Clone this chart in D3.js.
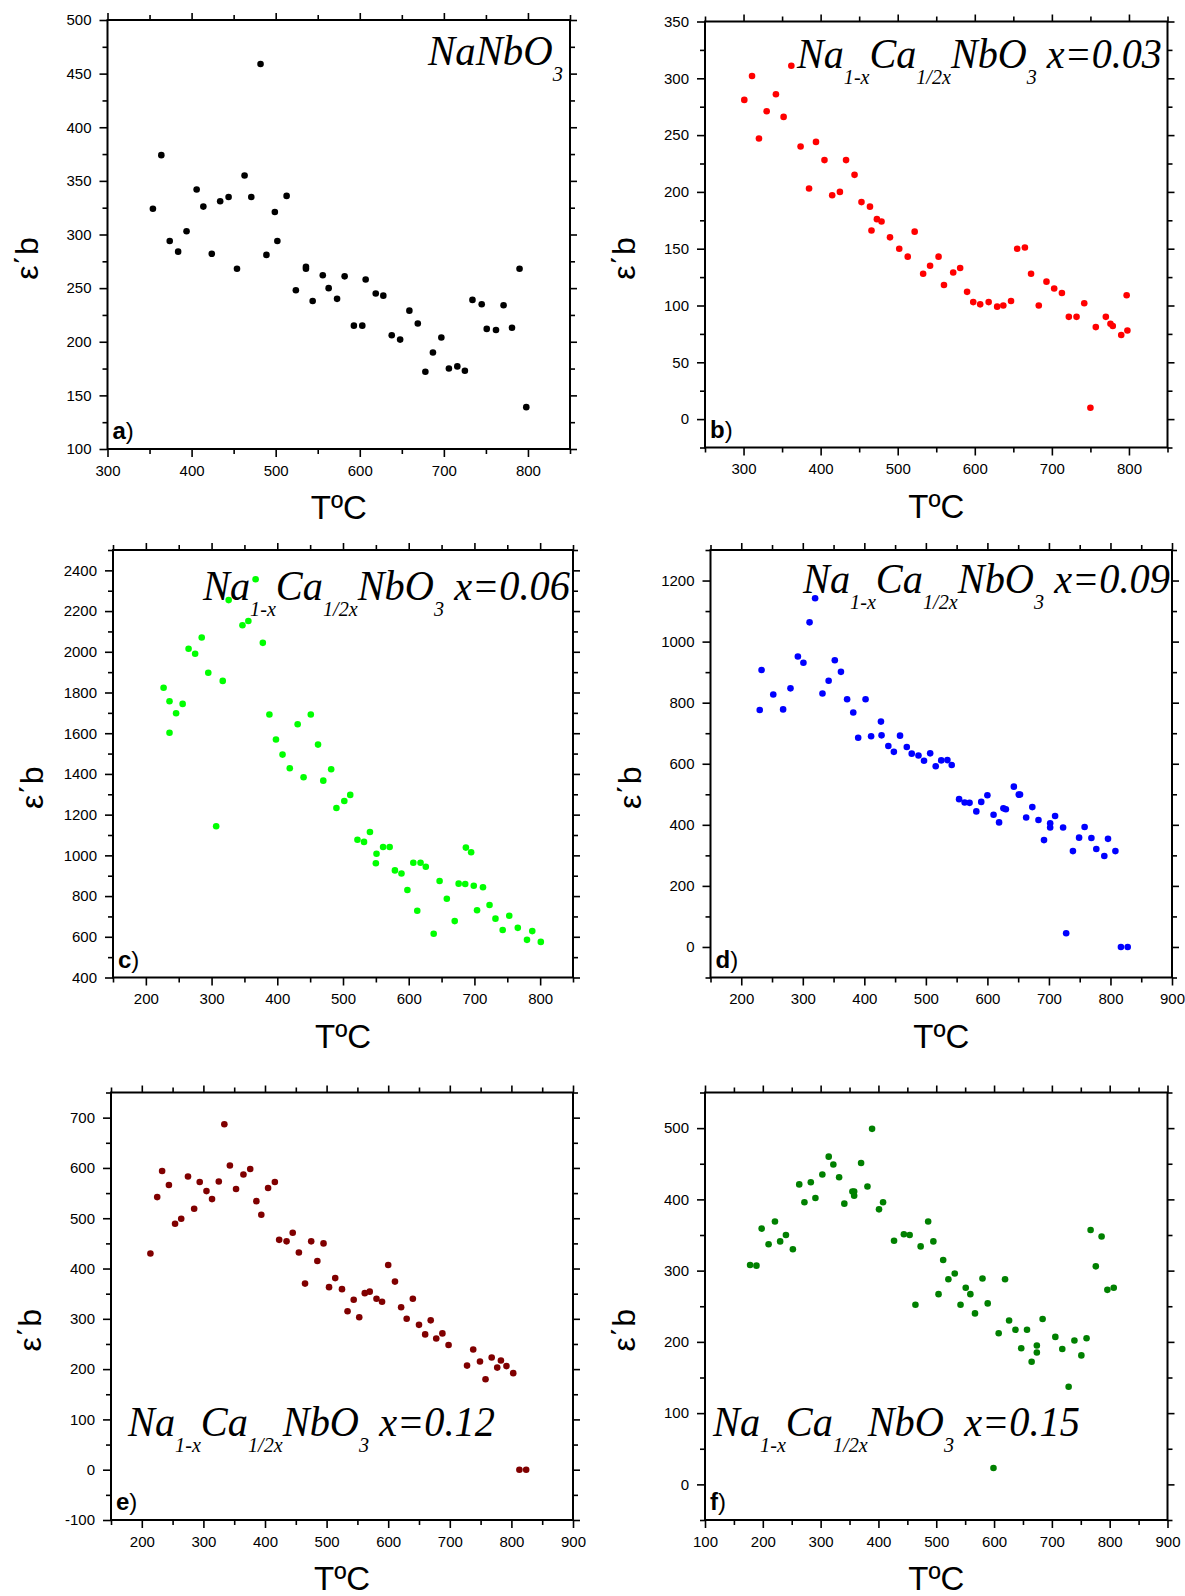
<!DOCTYPE html>
<html><head><meta charset="utf-8">
<script src="https://cdn.jsdelivr.net/npm/d3@7"></script>
<style>body{margin:0;background:#fff}svg{display:block}</style>
</head><body>
<svg id="chart" width="1185" height="1596"></svg>
<script>
// ---- data (temperature °C, ε'b) ----
const tempA=[354,364,374,384,394,406,414,424,434,444,454,463,471,482,489,499,502,513,524,536,536,544,556,563,573,582,593,603,607,619,628,638,648,659,669,678,687,697,706,716,725,734,745,751,762,771,781,790,798];
const epsA=[324,374,294,284,303,342,326,282,331,335,268,355,335,459,281,321,294,336,248,270,268,238,262,250,240,261,215,215,258,245,243,206,202,229,217,172,190,204,175,177,173,239,235,212,211,234,213,268,139];

const tempB=[301,311,320,330,342,352,362,374,385,394,405,415,425,433,444,453,464,466,473,479,490,502,513,522,533,542,553,560,572,581,590,598,607,618,629,637,647,655,665,673,683,693,703,713,722,732,742,750,757,770,776,779,790,797,798];
const epsB=[281,302,247,271,286,266,311,240,203,244,228,197,200,228,215,191,187,166,176,174,160,150,143,165,128,135,143,118,129,133,112,103,101,103,99,100,104,150,151,128,100,121,115,111,90,90,102,10,81,90,84,82,74,109,78];

const tempC=[227,236,236,246,256,265,275,285,295,307,317,326,347,356,367,378,388,398,408,419,431,440,451,462,470,482,490,502,511,522,532,541,551,550,561,571,579,589,598,607,613,618,626,638,647,658,670,676,686,687,695,699,704,713,723,732,743,753,766,780,788,801];
const epsC=[1823,1757,1602,1698,1744,2015,1990,2070,1897,1143,1857,2254,2130,2151,2356,2044,1692,1569,1495,1428,1644,1384,1692,1544,1367,1423,1233,1267,1297,1077,1066,1115,1008,961,1041,1041,926,911,830,964,728,964,944,615,874,787,677,861,859,1038,1015,851,730,843,756,689,633,703,644,585,628,575];

const tempD=[230,233,252,268,280,292,301,311,320,332,342,352,362,372,382,390,402,411,427,428,439,448,458,469,477,488,497,507,516,525,535,542,554,563,571,582,590,600,610,619,626,630,643,651,653,663,673,683,692,702,702,710,723,728,739,749,758,769,777,790,796,808,817,828];
const epsD=[776,907,827,778,847,951,931,1063,1142,830,872,939,901,811,768,685,811,690,738,693,658,639,692,655,633,627,610,634,592,611,612,596,484,473,472,444,475,497,433,408,454,451,525,499,499,424,458,416,350,405,391,429,391,45,314,358,393,357,321,298,354,314,0,0];

const tempE=[214,225,233,244,254,264,275,285,294,305,314,325,334,343,353,365,376,386,394,405,416,423,435,445,455,465,475,485,495,504,514,525,534,544,553,562,570,581,590,600,611,621,630,640,650,660,669,678,688,698,728,738,749,758,768,777,783,792,803,813,824];
const epsE=[430,542,594,566,489,499,583,519,572,554,538,573,687,605,558,587,598,534,507,560,572,457,454,471,432,370,454,415,450,363,381,359,315,338,303,351,354,340,334,407,374,323,300,340,288,269,297,261,271,248,207,239,215,180,223,203,217,206,192,0,0];

const tempF=[178,189,198,210,221,230,240,252,263,272,283,291,303,314,322,332,341,355,358,358,370,381,389,401,408,427,444,454,464,473,486,495,504,512,521,532,542,551,559,567,580,589,599,608,619,626,637,647,657,665,674,674,684,706,718,729,739,751,760,767,776,786,796,807];
const epsF=[308,307,359,337,369,341,350,330,421,396,424,402,435,460,449,431,394,411,411,405,451,418,499,386,396,342,351,350,252,334,369,341,267,315,288,296,252,276,267,240,289,254,23,212,288,230,217,191,217,172,195,185,232,207,190,137,202,181,205,357,306,348,273,276];

// tick labels
const xTicksA=[300,400,500,600,700,800], yTicksA=[100,150,200,250,300,350,400,450,500];
const xTicksB=[300,400,500,600,700,800], yTicksB=[0,50,100,150,200,250,300,350];
const xTicksC=[200,300,400,500,600,700,800], yTicksC=[400,600,800,1000,1200,1400,1600,1800,2000,2200,2400];
const xTicksD=[200,300,400,500,600,700,800,900], yTicksD=[0,200,400,600,800,1000,1200];
const xTicksE=[200,300,400,500,600,700,800,900], yTicksE=[-100,0,100,200,300,400,500,600,700];
const xTicksF=[100,200,300,400,500,600,700,800,900], yTicksF=[0,100,200,300,400,500];

// formula texts: [text, isSubscript]
const formulaA=[["NaNbO",0],["3",1]];
const formulaB=[["Na",0],["1-x",1],["Ca",0],["1/2x",1],["NbO",0],["3",1],[" x=0.03",0]];
const formulaC=[["Na",0],["1-x",1],["Ca",0],["1/2x",1],["NbO",0],["3",1],[" x=0.06",0]];
const formulaD=[["Na",0],["1-x",1],["Ca",0],["1/2x",1],["NbO",0],["3",1],[" x=0.09",0]];
const formulaE=[["Na",0],["1-x",1],["Ca",0],["1/2x",1],["NbO",0],["3",1],[" x=0.12",0]];
const formulaF=[["Na",0],["1-x",1],["Ca",0],["1/2x",1],["NbO",0],["3",1],[" x=0.15",0]];

// ---- layout ----
const panels=[
 {letter:"a",T:tempA,E:epsA,color:"#000000",xDom:[300,850],yDom:[100,500],box:[107.5,20,570,449],xT:xTicksA,yT:yTicksA,xm:50,ym:25,f:formulaA,fx:[428,563],fy:65},
 {letter:"b",T:tempB,E:epsB,color:"#ff0000",xDom:[250,850],yDom:[-25,350],box:[705,21.5,1167.5,447.5],xT:xTicksB,yT:yTicksB,xm:50,ym:25,f:formulaB,fx:[797,1162],fy:68},
 {letter:"c",T:tempC,E:epsC,color:"#00ff00",xDom:[150,850],yDom:[400,2500],box:[113,550,573,977.5],xT:xTicksC,yT:yTicksC,xm:50,ym:100,f:formulaC,fx:[203,570],fy:600},
 {letter:"d",T:tempD,E:epsD,color:"#0000ff",xDom:[150,900],yDom:[-100,1300],box:[710.5,550,1172,977.5],xT:xTicksD,yT:yTicksD,xm:50,ym:100,f:formulaD,fx:[803,1170],fy:593},
 {letter:"e",T:tempE,E:epsE,color:"#800000",xDom:[150,900],yDom:[-100,750],box:[111,1092.5,573,1520],xT:xTicksE,yT:yTicksE,xm:50,ym:50,f:formulaE,fx:[128,495],fy:1436},
 {letter:"f",T:tempF,E:epsF,color:"#008000",xDom:[100,900],yDom:[-50,550],box:[705,1092.5,1167.5,1520],xT:xTicksF,yT:yTicksF,xm:50,ym:50,f:formulaF,fx:[713,1080],fy:1436}
];

const svg=d3.select("#chart");
const SANS='"Liberation Sans", Arial, sans-serif';
const SERIF='"Liberation Serif", "DejaVu Serif", serif';
const fmt=d=>String(d);

function range(a,b,s){const r=[];for(let v=Math.ceil(a/s)*s;v<=b+1e-9;v+=s)r.push(v);return r;}

panels.forEach(p=>{
  const [x0,y0,x1,y1]=p.box;
  const x=d3.scaleLinear().domain(p.xDom).range([x0,x1]);
  const y=d3.scaleLinear().domain(p.yDom).range([y1,y0]);
  const g=svg.append("g");
  const xMinor=range(p.xDom[0],p.xDom[1],p.xm).filter(v=>!p.xT.includes(v));
  const yMinor=range(p.yDom[0],p.yDom[1],p.ym).filter(v=>!p.yT.includes(v));

  function styleAxis(sel){
    sel.select(".domain").remove();
    sel.selectAll("line").attr("stroke","#000").attr("stroke-width",1.6);
    sel.selectAll("text").attr("fill","#000").style("font-family",SANS).style("font-size","15px");
  }
  // bottom
  g.append("g").attr("transform",`translate(0,${y1})`)
    .call(d3.axisBottom(x).tickValues(p.xT).tickSize(8).tickPadding(8).tickSizeOuter(0).tickFormat(fmt)).call(styleAxis);
  g.append("g").attr("transform",`translate(0,${y1})`)
    .call(d3.axisBottom(x).tickValues(xMinor).tickSize(5).tickFormat("")).call(styleAxis);
  // top
  g.append("g").attr("transform",`translate(0,${y0})`)
    .call(d3.axisTop(x).tickValues(p.xT).tickSize(7).tickFormat("")).call(styleAxis);
  g.append("g").attr("transform",`translate(0,${y0})`)
    .call(d3.axisTop(x).tickValues(xMinor).tickSize(5).tickFormat("")).call(styleAxis);
  // left
  g.append("g").attr("transform",`translate(${x0},0)`)
    .call(d3.axisLeft(y).tickValues(p.yT).tickSize(8).tickPadding(8).tickFormat(fmt)).call(styleAxis);
  g.append("g").attr("transform",`translate(${x0},0)`)
    .call(d3.axisLeft(y).tickValues(yMinor).tickSize(5).tickFormat("")).call(styleAxis);
  // right
  g.append("g").attr("transform",`translate(${x1},0)`)
    .call(d3.axisRight(y).tickValues(p.yT).tickSize(7).tickFormat("")).call(styleAxis);
  g.append("g").attr("transform",`translate(${x1},0)`)
    .call(d3.axisRight(y).tickValues(yMinor).tickSize(5).tickFormat("")).call(styleAxis);

  // frame
  g.append("rect").attr("x",x0).attr("y",y0).attr("width",x1-x0).attr("height",y1-y0)
    .attr("fill","none").attr("stroke","#000").attr("stroke-width",2);

  // points
  g.append("g").selectAll("circle").data(p.T.map((t,i)=>[t,p.E[i]])).join("circle")
    .attr("cx",d=>x(d[0])).attr("cy",d=>y(d[1])).attr("r",3.3).attr("fill",p.color);

  // formula
  const fx0=p.fx[0], fx1=p.fx[1], fy=p.fy;
  const t=g.append("text").attr("x",fx0).attr("y",fy)
    .style("font-family",SERIF).style("font-style","italic").style("white-space","pre").attr("fill","#000");
  let sub=0;
  p.f.forEach(([s,isSub])=>{
    const ts=t.append("tspan").text(s).style("font-size",isSub?"21px":"42px");
    if(isSub!==sub){ts.attr("dy",isSub?16:-16);sub=isSub;}
  });
  const w=t.node().getComputedTextLength();
  const k=(fx1-fx0)/w;
  t.attr("transform",`translate(${fx0},${fy}) scale(${k},1) translate(${-fx0},${-fy})`);

  // panel letter
  const lt=g.append("text").attr("x",x0+5).attr("y",y1-10).style("font-family",SANS).style("font-size","24px").attr("fill","#000");
  lt.append("tspan").text(p.letter).style("font-weight","bold");
  lt.append("tspan").text(")");

  // axis titles
  g.append("text").attr("transform",`translate(${x0-70},${(y0+y1)/2+24}) rotate(-90)`)
    .attr("text-anchor","middle").style("font-family",SANS).style("font-size","32px").attr("fill","#000")
    .text("ε΄b");
  g.append("text").attr("x",(x0+x1)/2).attr("y",y1+70).attr("text-anchor","middle")
    .style("font-family",SANS).style("font-size","33px").attr("fill","#000").text("TºC");
});
</script>
</body></html>
